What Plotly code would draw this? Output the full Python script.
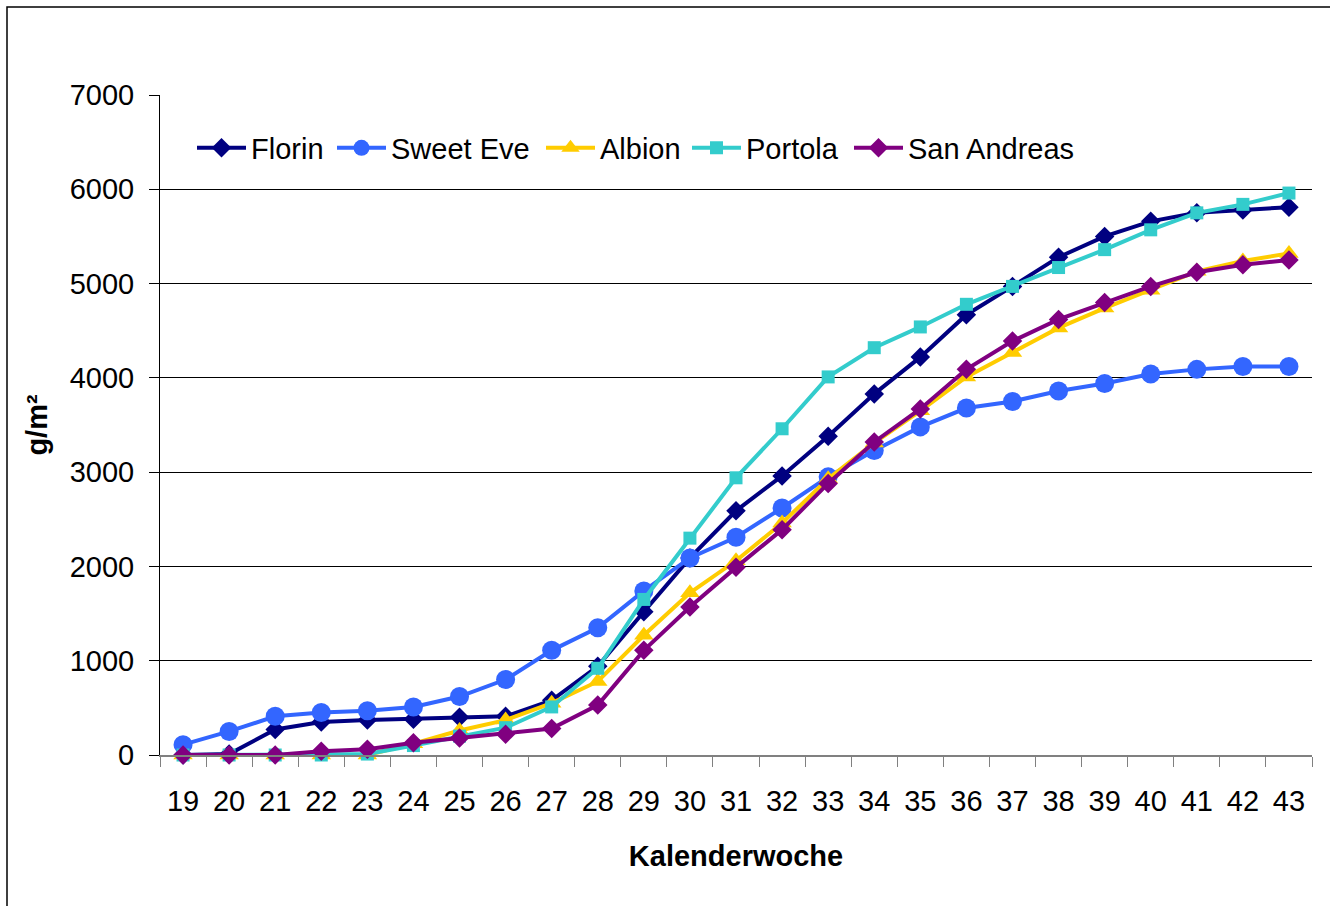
import plotly.graph_objects as go

weeks = [str(w) for w in range(19, 44)]

florin = [0, 10, 270, 350, 370, 380, 400, 410, 580, 940, 1520, 2090, 2590, 2960,
          3380, 3830, 4220, 4670, 4970, 5280, 5500, 5660, 5750, 5780, 5810]
sweet_eve = [110, 250, 410, 450, 470, 510, 620, 800, 1110, 1350, 1740, 2090, 2310,
             2620, 2950, 3230, 3480, 3680, 3750, 3860, 3940, 4040, 4090, 4120, 4120]
albion = [0, 0, 0, 0, 0, 120, 260, 370, 550, 780, 1270, 1720, 2060, 2460, 2930,
          3310, 3650, 4010, 4270, 4530, 4740, 4930, 5130, 5240, 5320]
portola = [0, 0, 0, 0, 10, 100, 200, 290, 510, 920, 1650, 2300, 2940, 3460, 4010,
           4320, 4540, 4780, 4970, 5170, 5360, 5570, 5750, 5840, 5960]
san_andreas = [0, 0, 0, 40, 60, 130, 180, 220, 280, 530, 1110, 1570, 1990, 2390,
               2880, 3320, 3670, 4090, 4390, 4620, 4800, 4970, 5120, 5200, 5250]

ITEMW = 49
series = [
    ("Florin", florin, "#000080", "diamond", 15, 95),
    ("Sweet Eve", sweet_eve, "#3366FF", "circle", 19, 164),
    ("Albion", albion, "#FFCC00", "triangle-up", 17, 101),
    ("Portola", portola, "#33CCCC", "square", 13, 117),
    ("San Andreas", san_andreas, "#800080", "diamond", 15, 220),
]

FONT = "Arial, Liberation Sans, sans-serif"
FS = 29

fig = go.Figure()
for name, vals, color, sym, size, lw in series:
    fig.add_trace(go.Scatter(
        x=weeks, y=vals, name=name, mode="lines+markers",
        line=dict(color=color, width=4),
        marker=dict(symbol=sym, size=size, color=color, line=dict(width=0)),
        cliponaxis=False, legendwidth=lw - (ITEMW - 30),
    ))

W, H = 1330, 906
L, R, T, B = 160, 18, 95, 151
pw, ph = W - L - R, H - T - B

fig.update_layout(
    width=W, height=H,
    margin=dict(l=L, r=R, t=T, b=B),
    paper_bgcolor="white", plot_bgcolor="white",
    font=dict(family=FONT, size=FS, color="black"),
    showlegend=True,
    legend=dict(orientation="h", x=(192 - L) / pw, xanchor="left",
                y=(H - B - 148) / ph, yanchor="middle",
                font=dict(size=FS), bgcolor="rgba(0,0,0,0)",
                itemwidth=ITEMW, tracegroupgap=0),
    shapes=[dict(type="rect", xref="paper", yref="paper",
                 x0=(7 - L) / pw, x1=1 + 40 / pw,
                 y0=-(B + 40) / ph, y1=1 + (T - 7) / ph,
                 line=dict(color="black", width=1.5), fillcolor="rgba(0,0,0,0)",
                 layer="below")],
)

fig.update_xaxes(
    type="category", range=[-0.5, 24.5],
    showline=True, linecolor="#808080", linewidth=2,
    ticks="outside", tickson="boundaries", ticklen=10, tickcolor="#808080", tickwidth=1,
    showgrid=False, zeroline=False,
    tickfont=dict(size=FS), ticklabelstandoff=19,
    title=dict(text="<b>Kalenderwoche</b>", font=dict(size=FS), standoff=30),
)
fig.update_yaxes(
    range=[0, 7000], dtick=1000, tick0=0,
    showline=True, linecolor="black", linewidth=1,
    ticks="outside", ticklen=10, tickcolor="black", tickwidth=1,
    showgrid=True, gridcolor="black", gridwidth=1, zeroline=False,
    tickfont=dict(size=FS), ticklabelstandoff=9,
    title=dict(text="<b>g/m²</b>", font=dict(size=FS), standoff=13),
)

fig.write_html("out.html", post_script="document.body.style.margin='0';",
               config={"displayModeBar": False})
